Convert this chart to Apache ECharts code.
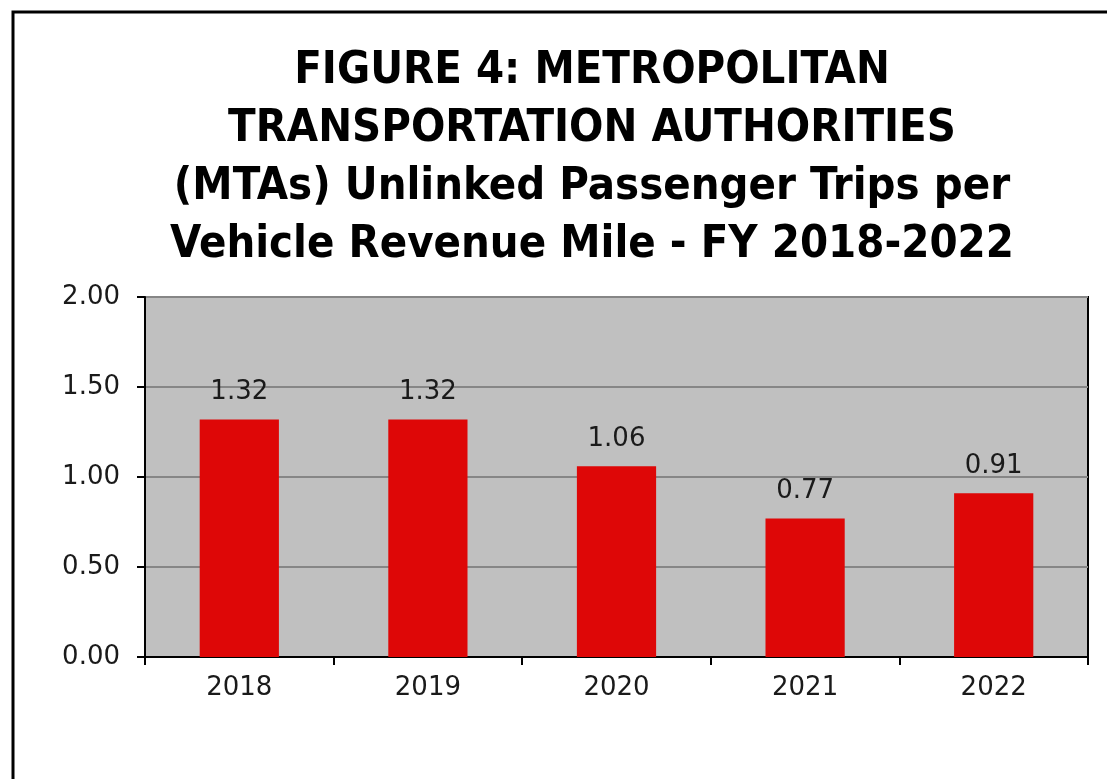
<!DOCTYPE html>
<html>
<head>
<meta charset="utf-8">
<script src="https://cdn.jsdelivr.net/npm/echarts@6/dist/echarts.min.js"></script>
<style>
html, body { margin: 0; padding: 0; background: #fff; }
#barChart { width: 1107px; height: 779px; }
</style>
</head>
<body>
<div id="barChart"></div>
<script>
// data
var years = ["2018", "2019", "2020", "2021", "2022"];
var tripsPerMile = [1.32, 1.32, 1.06, 0.77, 0.91];
var yTicks = { min: 0, max: 2, interval: 0.5 };

var titleText = "FIGURE 4: METROPOLITAN\nTRANSPORTATION AUTHORITIES\n(MTAs) Unlinked Passenger Trips per\nVehicle Revenue Mile - FY 2018-2022";
var labelFont = "'DejaVu Sans', sans-serif";

var barChart = echarts.init(document.getElementById("barChart"));
barChart.setOption({
  animation: false,
  title: {
    text: titleText,
    left: 587,
    textAlign: "center",
    top: 37,
    textStyle: {
      fontFamily: "'Liberation Sans Narrow', 'DejaVu Sans Condensed', sans-serif",
      fontWeight: "bold",
      fontSize: 45,
      lineHeight: 58,
      color: "#000"
    }
  },
  graphic: [
    {
      type: "rect",
      shape: { x: 13, y: 12, width: 1200, height: 900 },
      style: { fill: "none", stroke: "#000", lineWidth: 3 },
      silent: true
    }
  ],
  grid: {
    left: 145,
    right: 19,
    top: 297,
    bottom: 122,
    show: true,
    backgroundColor: "#c0c0c0",
    borderColor: "#000",
    borderWidth: 2
  },
  xAxis: {
    type: "category",
    data: years,
    axisLine: { lineStyle: { color: "#000", width: 2 } },
    axisTick: { show: true, length: 8, lineStyle: { color: "#000", width: 2 } },
    axisLabel: {
      color: "#1a1a1a",
      fontSize: 26,
      fontFamily: labelFont,
      margin: 18
    }
  },
  yAxis: {
    type: "value",
    min: yTicks.min,
    max: yTicks.max,
    interval: yTicks.interval,
    axisLine: { show: true, lineStyle: { color: "#000", width: 2 } },
    axisTick: { show: true, length: 8, lineStyle: { color: "#000", width: 2 } },
    splitLine: { lineStyle: { color: "#868686", width: 2 } },
    axisLabel: {
      color: "#1a1a1a",
      fontSize: 26,
      fontFamily: labelFont,
      margin: 25,
      formatter: function (v) { return v.toFixed(2); }
    }
  },
  series: [
    {
      type: "bar",
      data: tripsPerMile,
      barWidth: "42%",
      itemStyle: { color: "#de0707" },
      label: {
        show: true,
        position: "top",
        distance: 14,
        color: "#1a1a1a",
        fontSize: 26,
        fontFamily: labelFont,
        formatter: function (p) { return p.value.toFixed(2); }
      }
    }
  ]
});
</script>
</body>
</html>
